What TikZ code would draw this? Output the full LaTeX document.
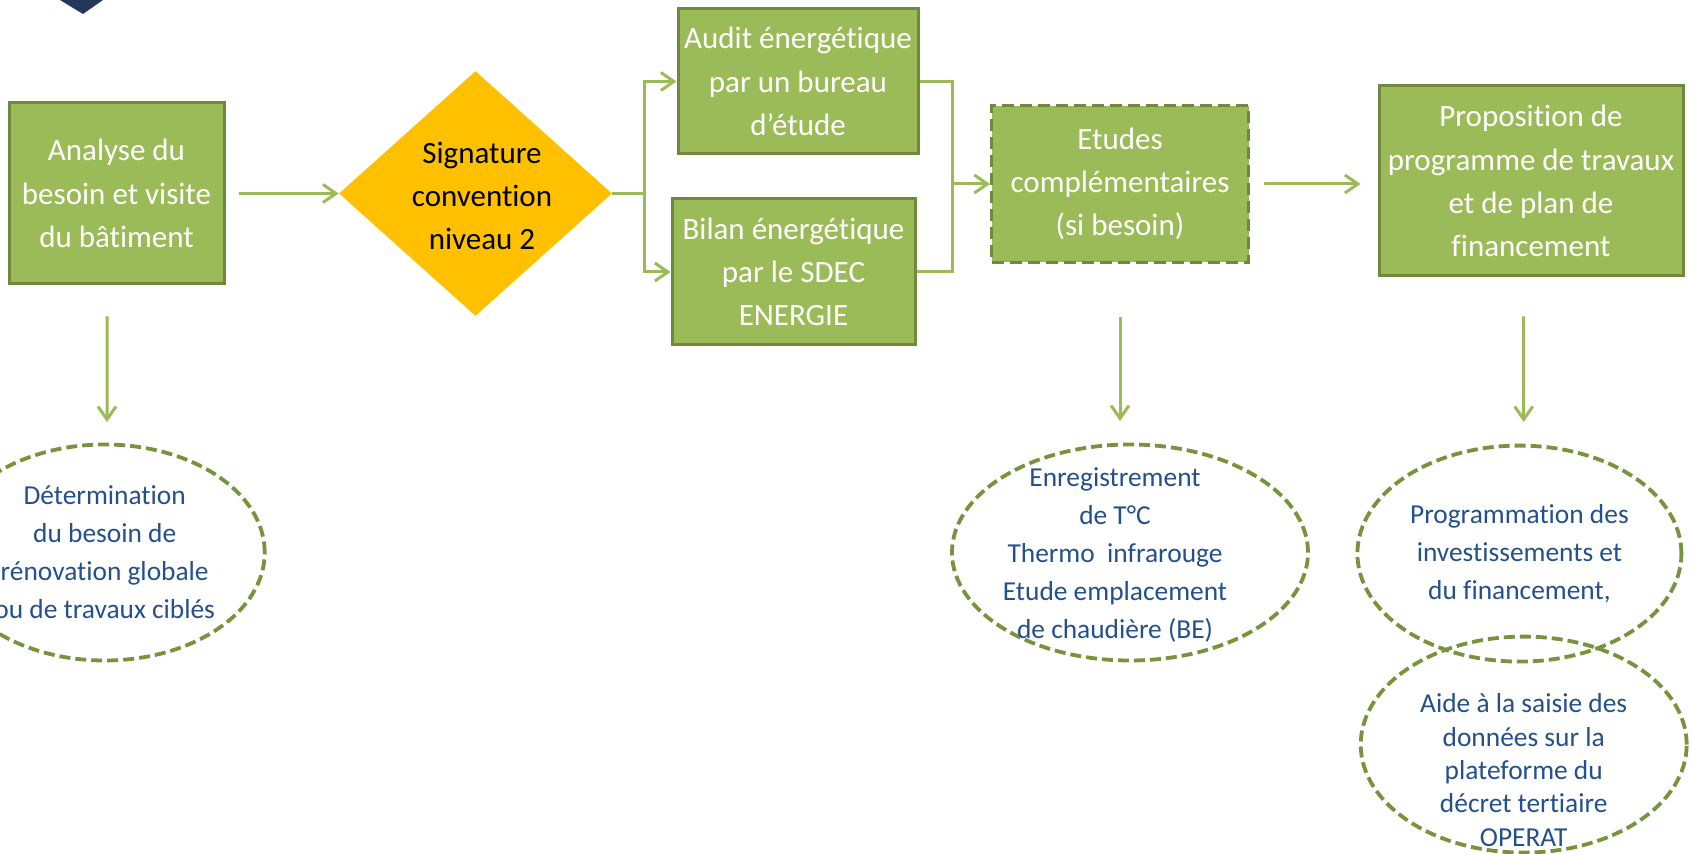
\documentclass[tikz,border=0pt]{standalone}
\usepackage{fontspec}
\setmainfont{Carlito}[Ligatures=NoCommon]
\usetikzlibrary{arrows.meta,shapes.geometric,calc}
\definecolor{boxgreen}{HTML}{9BBB59}
\definecolor{boxedge}{HTML}{71893F}
\definecolor{linkgreen}{HTML}{9BBB59}
\definecolor{dashgreen}{HTML}{77933C}
\definecolor{gold}{HTML}{FFC000}
\definecolor{notetext}{HTML}{24508C}
\definecolor{navy}{HTML}{243659}

\begin{document}
\begin{tikzpicture}[x=0.5pt,y=-0.5pt,
  stepbox/.style={rectangle, fill=boxgreen, draw=boxedge, line width=1.5pt,
    text=white, align=center, inner sep=0pt,
    font=\fontsize{15.5}{21.6}\selectfont},
  optbox/.style={stepbox, dash pattern=on 6pt off 3pt},
  decision/.style={diamond, fill=gold, draw=none, inner sep=0pt, text=black,
    align=center, font=\fontsize{15.5}{21.6}\selectfont},
  note/.style={ellipse, draw=dashgreen, line width=1.9pt,
    dash pattern=on 5.5pt off 2.5pt, inner sep=0pt},
  notetxt/.style={text=notetext, align=center, inner sep=0pt,
    font=\fontsize{13.7}{19}\selectfont},
  link/.style={draw=linkgreen, line width=1.5pt},
  conn/.style={link, -{Straight Barb[length=6.5pt,width=9pt,line width=1.5pt]}}
]
\clip (0,0) rectangle (1692,854);
\fill[white] (0,0) rectangle (1692,854);

% header mark
\fill[navy] (60,0) -- (103,0) -- (83,14) -- cycle;

% main steps
\node[stepbox, minimum width=107.5pt, minimum height=90.5pt] (b1) at (116.5,193.5)
  {Analyse du\\besoin et visite\\du bâtiment};
\node[decision, minimum width=136.5pt, minimum height=122.5pt] (d) at (475.5,193.5) {};
\node[text=black, align=center, inner sep=0pt,
  font=\fontsize{15.5}{21.6}\selectfont] (dt) at (482,196)
  {Signature\\convention\\niveau 2};
\node[stepbox, minimum width=120pt, minimum height=72.5pt] (audit) at (798,81.5)
  {Audit énergétique\\par un bureau\\d’étude};
\node[stepbox, minimum width=121.5pt, minimum height=73pt] (bilan) at (793.5,272)
  {Bilan énergétique\\par le SDEC\\ENERGIE};
\node[optbox, minimum width=128.5pt, minimum height=78.25pt] (etudes) at (1120,184)
  {Etudes\\complémentaires\\(si besoin)};
\node[stepbox, minimum width=152pt, minimum height=95pt] (prop) at (1531,181)
  {Proposition de\\programme de travaux\\et de plan de\\financement};

% detail notes
\node[note, minimum width=160pt, minimum height=108pt, notetxt] (e1) at (104.7,552.5)
  {Détermination\\du besoin de\\rénovation globale\\ou de travaux ciblés};
\node[note, minimum width=178pt, minimum height=108pt] (e2) at (1130,552.5) {};
\node[notetxt] (e2t) at (1115,555)
  {Enregistrement\\de T°C\\Thermo\ \ infrarouge\\Etude emplacement\\de chaudière (BE)};
\node[note, minimum width=162pt, minimum height=108pt, notetxt] (e3) at (1519.4,553.6)
  {Programmation des\\investissements et\\du financement,};
\node[note, minimum width=163pt, minimum height=108pt] (e4) at (1523.7,744.6) {};
\node[notetxt, font=\fontsize{13.7}{16.7}\selectfont] (e4t) at (1523.7,770)
  {Aide à la saisie des\\données sur la\\plateforme du\\décret tertiaire\\OPERAT};

% connectors
\draw[conn] ($(b1.east)+(13,0)$) -- (d.west);
\coordinate (j1) at (644,193.5);
\draw[link] (d.east) -- (j1);
\draw[conn] (j1) |- (audit.west);
\draw[conn] (j1) |- (bilan.west);
\coordinate (j2) at (952,184);
\draw[link] (audit.east) -| (j2);
\draw[link] (bilan.east) -| (j2);
\draw[conn] (j2) -- (etudes.west);
\draw[conn] ($(etudes.east)+(14,0)$) -- ($(prop.west |- etudes.east)+(-17,0)$);

\draw[conn] ($(b1.south)+(-9.5,31)$) -- ($(e1.north)+(2.3,-20.5)$);
\draw[conn] ($(etudes.south)+(0,53)$) -- ($(e2.north)+(-10,-21.5)$);
\draw[conn] ($(prop.south)+(-7.3,39)$) -- ($(e3.north)+(4.3,-21.6)$);
\end{tikzpicture}
\end{document}
